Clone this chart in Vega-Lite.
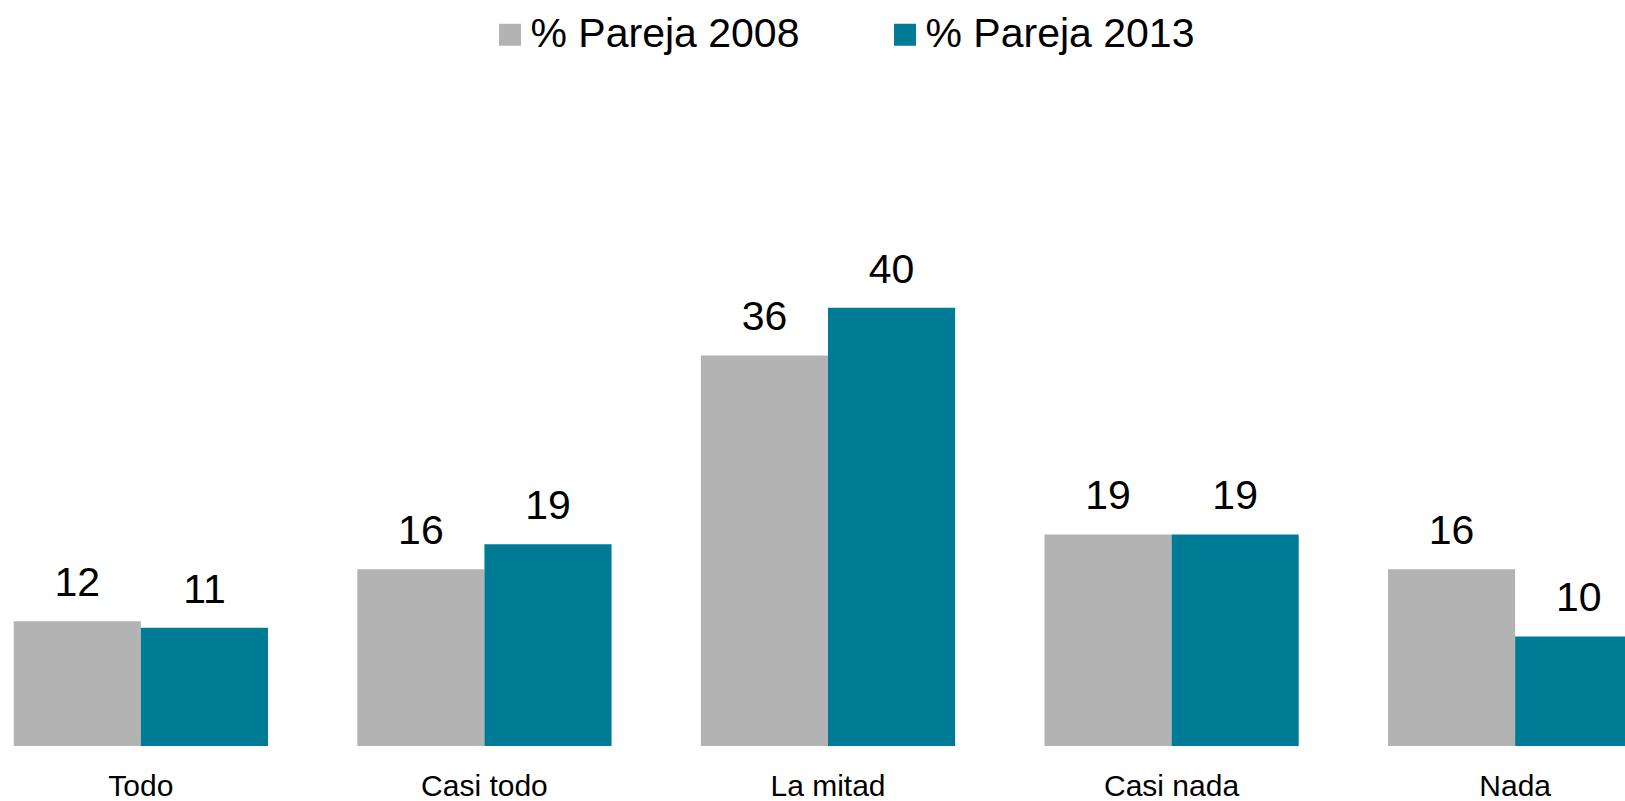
{
  "$schema": "https://vega.github.io/schema/vega-lite/v6.json",
  "width": 1656,
  "height": 651,
  "autosize": {"type": "none"},
  "padding": {"top": 95, "left": 0, "right": 0, "bottom": 55},
  "background": "white",
  "config": {
    "view": {"stroke": null},
    "font": "Liberation Sans",
    "text": {"font": "Liberation Sans"}
  },
  "data": {
    "values": [
      {"cat": "Todo", "serie": "% Pareja 2008", "v": 11.5, "label": "12"},
      {"cat": "Todo", "serie": "% Pareja 2013", "v": 10.9, "label": "11"},
      {"cat": "Casi todo", "serie": "% Pareja 2008", "v": 16.3, "label": "16"},
      {"cat": "Casi todo", "serie": "% Pareja 2013", "v": 18.6, "label": "19"},
      {"cat": "La mitad", "serie": "% Pareja 2008", "v": 36.0, "label": "36"},
      {"cat": "La mitad", "serie": "% Pareja 2013", "v": 40.4, "label": "40"},
      {"cat": "Casi nada", "serie": "% Pareja 2008", "v": 19.5, "label": "19"},
      {"cat": "Casi nada", "serie": "% Pareja 2013", "v": 19.5, "label": "19"},
      {"cat": "Nada", "serie": "% Pareja 2008", "v": 16.3, "label": "16"},
      {"cat": "Nada", "serie": "% Pareja 2013", "v": 10.1, "label": "10"}
    ]
  },
  "encoding": {
    "x": {
      "field": "cat", "type": "nominal", "sort": null,
      "scale": {"paddingInner": 0.26, "paddingOuter": 0.04},
      "axis": {"title": null, "domain": false, "ticks": false, "labelAngle": 0,
               "labelFontSize": 30, "labelColor": "#000000", "labelPadding": 25,
               "labelFont": "Liberation Sans"}
    },
    "xOffset": {"field": "serie", "type": "nominal", "scale": {"paddingInner": 0, "paddingOuter": 0}},
    "y": {
      "field": "v", "type": "quantitative",
      "scale": {"domain": [0, 60], "nice": false},
      "axis": null
    }
  },
  "layer": [
    {
      "mark": {"type": "bar"},
      "encoding": {
        "color": {
          "field": "serie", "type": "nominal",
          "scale": {"domain": ["% Pareja 2008", "% Pareja 2013"], "range": ["#b3b3b3", "#007b96"]},
          "legend": {
            "title": null, "orient": "none", "direction": "horizontal",
            "legendX": 489.5, "legendY": -81, "padding": 0,
            "symbolType": "square", "symbolSize": 484, "symbolStrokeWidth": 0,
            "labelFontSize": 41, "labelColor": "#000000", "labelOffset": 0,
            "columnPadding": 85, "labelLimit": 400, "labelFont": "Liberation Sans"
          }
        }
      }
    },
    {
      "mark": {"type": "text", "baseline": "alphabetic", "dy": -25, "fontSize": 41, "color": "#000000"},
      "encoding": {"text": {"field": "label", "type": "nominal"}}
    }
  ]
}
